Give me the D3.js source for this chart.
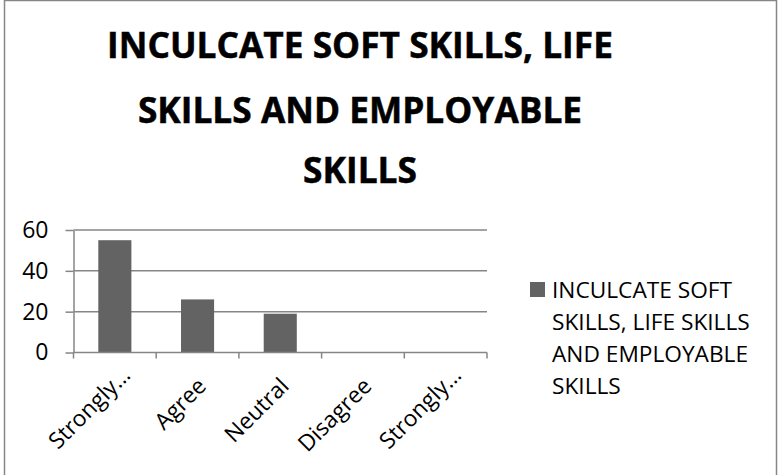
<!DOCTYPE html>
<html>
<head>
<meta charset="utf-8">
<script src="https://cdn.jsdelivr.net/npm/d3@7"></script>
<style>
  html, body { margin: 0; padding: 0; background: #fff; }
  svg { display: block; }
  text { font-family: "Open Sans", "Noto Sans", sans-serif; }
</style>
</head>
<body>
<svg id="chart" width="778" height="475"></svg>
<script>
const categories = ["Strongly…", "Agree", "Neutral", "Disagree", "Strongly…"];
const seriesName = "INCULCATE SOFT SKILLS, LIFE SKILLS AND EMPLOYABLE SKILLS";
const values = [55, 26, 19, 0, 0];
const yTicks = [0, 20, 40, 60];
const titleLines = ["INCULCATE SOFT SKILLS, LIFE", "SKILLS AND EMPLOYABLE", "SKILLS"];
const legendLines = ["INCULCATE SOFT", "SKILLS, LIFE SKILLS", "AND EMPLOYABLE", "SKILLS"];

(function () {
const gray = "#868686";
const barColor = "#636363";

const svg = d3.select("#chart");
svg.append("rect").attr("x", 0).attr("y", 0).attr("width", 778).attr("height", 475).attr("fill", "#fff");
svg.append("rect").attr("x", 4.5).attr("y", 0.5).attr("width", 772).attr("height", 500)
  .attr("fill", "none").attr("stroke", gray).attr("stroke-width", 1.5);

// Title
const title = svg.append("g");
const t0 = title.append("text").attr("font-weight", 700).attr("font-size", 36).text(titleLines[0]);
const titleSize = 36 * 506 / t0.node().getComputedTextLength();
t0.remove();
const titleScaleY = 25 / (0.714 * titleSize);
const titleBaselines = [58, 122.5, 183];
title.selectAll("text").data(titleLines).join("text")
  .attr("transform", (d, i) => `translate(360,${titleBaselines[i]}) scale(1,${titleScaleY})`)
  .attr("text-anchor", "middle").attr("font-weight", 700)
  .attr("font-size", titleSize).attr("fill", "#000")
  .attr("stroke", "#000").attr("stroke-width", 0.5).text(d => d);

// Scales
const pLeft = 73.5, pRight = 487, pTop = 230, pBottom = 352.5;
const x = d3.scaleBand().domain(d3.range(categories.length)).range([pLeft, pRight]).paddingInner(0).paddingOuter(0);
const y = d3.scaleLinear().domain([0, 60]).range([pBottom, pTop]);

// Gridlines
svg.append("g").selectAll("line").data(yTicks.filter(v => v > 0)).join("line")
  .attr("x1", pLeft).attr("x2", pRight)
  .attr("y1", d => y(d)).attr("y2", d => y(d))
  .attr("stroke", gray).attr("stroke-width", 1.5);

// Y axis
const yAxis = svg.append("g").attr("transform", `translate(${pLeft},0)`)
  .call(d3.axisLeft(y).tickValues(yTicks).tickSize(8).tickPadding(17).tickSizeOuter(0));
yAxis.select(".domain").attr("stroke", gray).attr("stroke-width", 1.5);
yAxis.selectAll(".tick line").attr("stroke", gray).attr("stroke-width", 1.5);
yAxis.selectAll(".tick text").attr("font-size", 23).attr("fill", "#000")
  .attr("font-family", "\"Open Sans\", sans-serif");

// Bars
const bw = x.bandwidth() / 2.5;
svg.append("g").selectAll("rect").data(values).join("rect")
  .attr("x", (d, i) => x(i) + (x.bandwidth() - bw) / 2)
  .attr("width", bw)
  .attr("y", d => y(d))
  .attr("height", d => y(0) - y(d))
  .attr("fill", barColor);

// X axis
const xg = svg.append("g");
xg.append("line").attr("x1", pLeft).attr("x2", pRight).attr("y1", pBottom).attr("y2", pBottom)
  .attr("stroke", gray).attr("stroke-width", 1.5);
const bounds = d3.range(categories.length).map(i => x(i)).concat([x(categories.length - 1) + x.bandwidth()]);
xg.selectAll("line.tk").data(bounds).join("line").attr("class", "tk")
  .attr("x1", d => d).attr("x2", d => d).attr("y1", pBottom).attr("y2", pBottom + 6)
  .attr("stroke", gray).attr("stroke-width", 1.5);
xg.selectAll("text").data(categories).join("text")
  .attr("transform", (d, i) => {
    const cx = x(i) + x.bandwidth() / 2;
    const trunc = d.endsWith("…");
    return `translate(${cx + (trunc ? 17 : 10)},${pBottom + (trunc ? 24 : 35)}) rotate(-45)`;
  })
  .attr("text-anchor", "end").attr("font-size", 22.7).attr("fill", "#000").text(d => d);

// Legend
const lg = svg.append("g");
lg.append("rect").attr("x", 530).attr("y", 282).attr("width", 15).attr("height", 15).attr("fill", barColor);
lg.selectAll("text").data(legendLines).join("text")
  .attr("x", 552).attr("y", (d, i) => 297.5 + i * 32)
  .attr("font-size", 22.7).attr("fill", "#000").text(d => d);
})();
</script>
</body>
</html>
